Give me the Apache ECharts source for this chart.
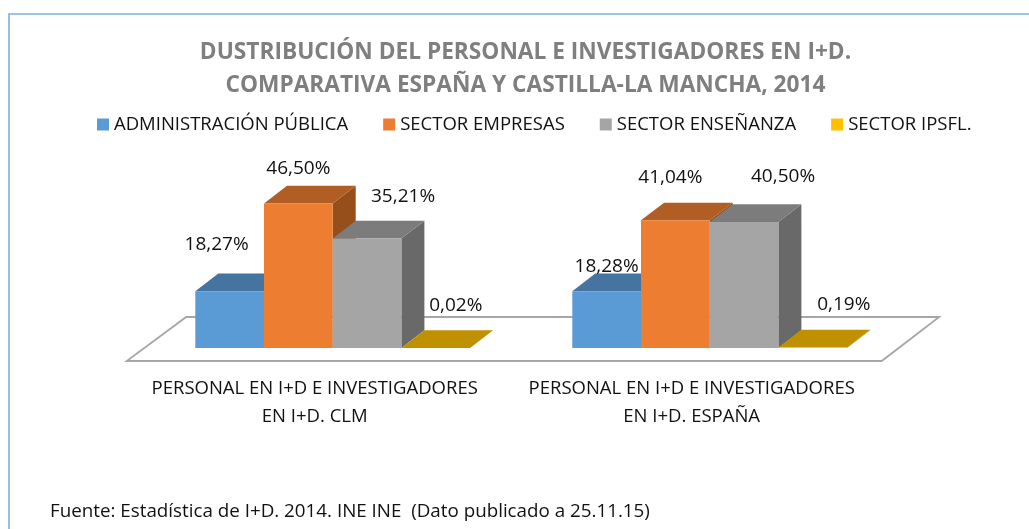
<!DOCTYPE html>
<html><head><meta charset="utf-8">
<style>html,body{margin:0;padding:0;background:#fff}#c{width:1029px;height:529px}</style>
<script src="https://cdn.jsdelivr.net/npm/echarts@6/dist/echarts.min.js"></script>
</head><body><div id="c"></div>
<script>
const categories = ['PERSONAL EN I+D E INVESTIGADORES\nEN I+D. CLM', 'PERSONAL EN I+D E INVESTIGADORES\nEN I+D. ESPAÑA'];
const administracion = [18.27, 18.28];
const empresas = [46.50, 41.04];
const ensenanza = [35.21, 40.50];
const ipsfl = [0.02, 0.19];
const seriesNames = ['ADMINISTRACIÓN PÚBLICA', 'SECTOR EMPRESAS', 'SECTOR ENSEÑANZA', 'SECTOR IPSFL.'];
const titleLines = 'DUSTRIBUCIÓN DEL PERSONAL E INVESTIGADORES EN I+D.\nCOMPARATIVA ESPAÑA Y CASTILLA-LA MANCHA, 2014';
const sourceNote = 'Fuente: Estadística de I+D. 2014. INE INE  (Dato publicado a 25.11.15)';

// styling and layout (not data)
const FONT = '"Open Sans", Lato, sans-serif';
const faces = [
  {front:'#5B9BD5', top:'#44749F', side:'#3A6A94'},
  {front:'#ED7D31', top:'#B15E24', side:'#964F1A'},
  {front:'#A5A5A5', top:'#7C7C7C', side:'#696969'},
  {front:'#FFC000', top:'#BF9000', side:'#A67D00'}
];
const DEPTH_X = 23, DEPTH_Y = 17.7, BAR_W = 68.7;
const labelOffsets = [
  [[-13,-47],[0,-25]],
  [[0,-35],[-5,-43]],
  [[36,-42],[39,-45]],
  [[20,-42],[31,-43]]
];
const fmt = v => v.toFixed(2).replace('.', ',') + '%';

function barRender(si){
  return function(params, api){
    const cat = api.value(0), val = api.value(1);
    const base = api.coord([cat, 0]);
    const topP = api.coord([cat, val]);
    const x0 = base[0] + (si - 2) * BAR_W, x1 = x0 + BAR_W;
    const yb = base[1], yt = topP[1];
    const f = faces[si], off = labelOffsets[si][cat];
    const poly = (pts, color) => ({type:'polygon', shape:{points:pts}, style:{fill:color}});
    return {type:'group', children:[
      poly([[x1,yb],[x1+DEPTH_X,yb-DEPTH_Y],[x1+DEPTH_X,yt-DEPTH_Y],[x1,yt]], f.side),
      poly([[x0,yt],[x1,yt],[x1+DEPTH_X,yt-DEPTH_Y],[x0+DEPTH_X,yt-DEPTH_Y]], f.top),
      poly([[x0,yb],[x1,yb],[x1,yt],[x0,yt]], f.front),
      {type:'text', z2:50, style:{text:fmt(val), x:(x0+x1)/2+off[0], y:yt+off[1], align:'center', verticalAlign:'middle',
        font:'19px '+FONT, fill:'#111'}}
    ]};
  };
}
function floorRender(params, api){
  const a = api.coord([0,0]), b = api.coord([1,0]);
  const band = b[0]-a[0];
  const L = a[0]-band/2, R = b[0]+band/2, y = a[1];
  return {type:'polygon', shape:{points:[[L-17.5,y+13],[R-16.5,y+13],[R+41,y-31],[L+42,y-31]]},
    style:{fill:'#fff', stroke:'#A6A6A6', lineWidth:1.8}};
}
const chart = echarts.init(document.getElementById('c'), null, {renderer:'canvas'});
const seriesVals = [administracion, empresas, ensenanza, ipsfl];
chart.setOption({
  animation:false,
  backgroundColor:'#fff',
  title:[
    {text:titleLines, left:520.5, top:31, textAlign:'center',
     textStyle:{fontFamily:FONT, fontSize:22.7, fontWeight:'bold', color:'#7F7F7F', lineHeight:33}},
    {text:sourceNote, left:45, top:498, textStyle:{fontFamily:FONT, fontSize:18.8, fontWeight:'normal', color:'#111', lineHeight:18}}
  ],
  legend:{left:92, top:110, itemWidth:12, itemHeight:12, itemGap:35, icon:'rect',
    data:seriesNames, textStyle:{fontFamily:FONT, fontSize:18.5, color:'#111', padding:[0,0,0,0]}},
  grid:{left:144.2, right:130.8, top:192.5, bottom:181, containLabel:false},
  xAxis:{type:'category', data:categories, axisLine:{show:false}, axisTick:{show:false},
    axisLabel:{fontFamily:FONT, fontSize:18.5, color:'#111', lineHeight:28, margin:27, interval:0, padding:[0,36,0,0]}},
  yAxis:{type:'value', min:0, max:50, show:false},
  series:[
    {type:'custom', silent:true, z:1, renderItem:floorRender, data:[[0]], encode:{x:0}, clip:false, legendHoverLink:false},
    ...seriesNames.map((n,si)=>({
      type:'custom', name:n, z:2+si, clip:false, itemStyle:{color:faces[si].front},
      renderItem:barRender(si),
      data:seriesVals[si].map((v,i)=>[i,v]),
      encode:{x:0,y:1}
    }))
  ],
  graphic:[{type:'polyline', silent:true, z:100, shape:{points:[[9,530],[9,14],[1030,14]]},
    style:{stroke:'#7FAEDD', lineWidth:1.6, fill:null}}]
});
</script></body></html>
